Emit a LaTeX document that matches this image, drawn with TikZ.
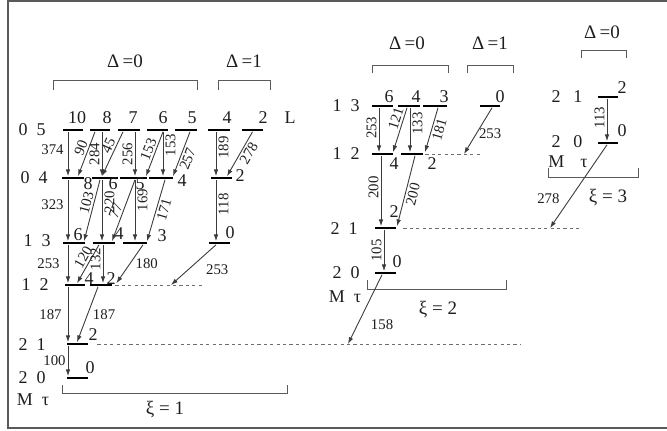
\documentclass[tikz,border=0pt]{standalone}
\usepackage{fontspec}
\setmainfont{Liberation Serif}
\usepackage{tikz}
\usetikzlibrary{arrows.meta,calc}
\definecolor{Ink}{HTML}{1E1E1E}
\definecolor{Wire}{HTML}{3C3C3C}
\definecolor{Frame}{HTML}{5A5A5A}
\definecolor{Dash}{HTML}{6E6E6E}

\begin{document}
\begin{tikzpicture}[x=0.5pt,y=-0.5pt,
  lvl/.style={fill=black,inner sep=0pt,minimum height=1.4pt,minimum width=#1*0.5pt},
  lvl/.default=21,
  tr/.style={draw=Wire,line width=0.45pt,-{Latex[length=3.4pt,width=2.3pt]}},
  wl/.style={font=\fontsize{7.4}{8}\selectfont,text=Ink,inner sep=1pt},
  vl/.style={wl,rotate=90},
  tag/.style={font=\fontsize{9}{10}\selectfont,text=Ink,inner sep=0pt},
  head/.style={font=\fontsize{9.5}{11}\selectfont,text=Ink,inner sep=0pt},
  brk/.style={draw=Frame,line width=0.5pt},
  lost/.style={draw=Dash,line width=0.5pt,dash pattern=on 1.6pt off 1.6pt}]
  \useasboundingbox (0,0) rectangle (667,430);
  \draw[draw=Frame,line width=1pt] (667,1) -- (8,1) -- (8,428) -- (667,428);

  \foreach \n/\x/\y/\w in {u10/72.5/130/20,u8/100/130/20,u7/129/130/22,u6/157.5/130/21,
      u5/186/130/22,u4/219/130/22,u2/252.5/130/21,
      l8/73/178/22,l6/105/178/26,l5/133.5/178/27,l4/161/178/24,l2/221/178/21,
      m6/74/243/22,m4/104/243/22,m3/135/243/24,m0/219.5/243/21,
      n4/75/285/20,n2/101/285/22,o2/77.5/344/21,p0/77.5/378/21,
      a6/382.5/106/21,a4/409/106/22,a3/435/106/24,a0/490/106/20,
      b4/382.5/154/21,b2/412/154/22,c2/385.5/228/21,d0/385.5/273/21,
      e2/608/97/20,f0/608/143/20}
    \node[lvl=\w] (\n) at (\x,\y) {};

  \foreach \n/\x/\y/\t in {r05/32/130/{0\enspace5},r04/34/178/{0\enspace4},r13/37/241/{1\enspace3},
      r12/35/285/{1\enspace2},r21/32/345/{2\enspace1},r20/32/378/{2\enspace0},mt1/33/400/{M\enspace τ},
      t10/77/118/10,t8/107/118/8,t7/133/118/7,t6/163/118/6,t5/192/118/5,t4/227/118/4,t2/263/118/2,tL/290/118/L,
      s8/88/184/8,s6/113/184/6,s5/140/184/5,s4/182/181/4,s2/240/176/2,
      v6/78/235/6,v4/119/234/4,v3/162/236/3,v0/230/233/0,
      w4/89/279/4,w2/111/279/2,x2/93/335/2,y0/90/368/0,
      rA13/346/106/{1\enspace3},rA12/346/154/{1\enspace2},rA21/344/229/{2\enspace1},
      rA20/346/273/{2\enspace0},mtA/345/297/{M\enspace τ},
      q6/389/97/6,q4/416/97/4,q3/444/97/3,q0/500/97/0,
      z4/394/164/4,z2/432/164/2,g2/394/212/2,g0/397/262/0,
      rB21/567/97/{2\hspace{0.7em}1},rB20/567/142/{2\hspace{0.7em}0},mtB/568/162/{M\hspace{0.9em}τ},
      j2/622/88/2,j0/622/131/0}
    \node[tag] (\n) at (\x,\y) {\t};

  \foreach \n/\x/\y/\t in {d01/125/61/{Δ\,=0},d11/244/61/{Δ\,=1},d02/407/43/{Δ\,=0},
      d12/490/43/{Δ\,=1},d03/602/32/{Δ\,=0},
      xi1/165/410/{ξ = 1},xi2/438/310/{ξ = 2},xi3/608/198/{ξ = 3}}
    \node[head] (\n) at (\x,\y) {\t};

  \draw[brk] (53,90) |- (197,80) -- (197,90);
  \draw[brk] (218,90) |- (270,80) -- (270,90);
  \draw[brk] (372,73) |- (448,65) -- (448,73);
  \draw[brk] (467,73) |- (513,65) -- (513,73);
  \draw[brk] (581,58) |- (626,50) -- (626,58);
  \draw[brk] (62,385) |- (287,393) -- (287,385);
  \draw[brk] (367,280) |- (506,289) -- (506,280);
  \draw[brk] (548,168) |- (638,177) -- (638,168);

  \coordinate (eA) at (202,285);
  \coordinate (eB) at (520,344);
  \coordinate (eC) at (482,154);
  \coordinate (eD) at (582,228);
  \coordinate (hA) at (171,285);
  \coordinate (hB) at (348,344);
  \coordinate (hC) at (464,154);
  \coordinate (hD) at (550,228);
  \draw[lost] ($(n2.east)+(3,0)$) -- (eA);
  \draw[lost] ($(o2.east)+(9,0)$) -- (eB);
  \draw[lost] ($(b2.east)+(2,0)$) -- (eC);
  \draw[lost] ($(c2.east)+(7,0)$) -- (eD);

  \draw[tr] ($(u10.south)+(-4.5,0)$) -- node[wl,left=1pt,pos=.4] (k374) {374} ($(l8.north)+(-5,0)$);
  \draw[tr] ($(u8.south)+(-5,0)$) -- node[wl,sloped,above,pos=.42] (k90) {90} ($(l8.north)+(5,0)$);
  \draw[tr] ($(u8.south)+(2,0)$) -- node[vl,anchor=south,pos=.5] (k284) {284} ($(l6.north)+(-3,0)$);
  \draw[tr] ($(u7.south)+(-6,0)$) -- node[wl,sloped,above,pos=.38] (k45) {45} ($(l6.north)+(-3,0)$);
  \draw[tr] ($(u7.south)+(6,0)$) -- node[vl,anchor=south,pos=.5] (k256) {256} ($(l5.north)+(1.5,0)$);
  \draw[tr] ($(u6.south)+(5.5,0)$) -- node[wl,sloped,above,pos=.45] (k153a) {153} ($(l5.north)+(12.5,0)$);
  \draw[tr] ($(u6.south)+(5.5,0)$) -- node[vl,anchor=north,pos=.3] (k153b) {153} ($(l4.north)+(2,0)$);
  \draw[tr] ($(u5.south)+(4,0)$) -- node[wl,sloped,below,pos=.55] (k257) {257} ($(l4.north)+(12,0)$);
  \draw[tr] ($(u4.south)+(-3,0)$) -- node[vl,anchor=north,pos=.35] (k189) {189} ($(l2.north)+(-5,0)$);
  \draw[tr] (u2.south) -- node[wl,sloped,below,pos=.4] (k278a) {278} ($(l2.north)+(6,0)$);

  \draw[tr] ($(l8.south)+(-5,0)$) -- node[wl,left=1pt,pos=.41] (k323) {323} ($(m6.north)+(-6,0)$);
  \draw[tr] ($(l6.south)+(-5,0)$) -- node[wl,sloped,above,pos=.4] (k103) {103} ($(m6.north)+(10,0)$);
  \draw[tr] ($(l6.south)+(-3,0)$) -- node[vl,anchor=north,pos=.36] (k220) {220} ($(m4.north)+(-2,0)$);
  \draw[tr] ($(l5.south)+(1.5,0)$) -- node[wl,sloped,above,pos=.55] (k77) {77} ($(m4.north)+(8,0)$);
  \draw[tr] ($(l5.south)+(1.5,0)$) -- node[vl,anchor=north,pos=.33] (k169) {169} (m3.north);
  \draw[tr] ($(l4.south)+(4,0)$) -- node[wl,sloped,below,pos=.45] (k171) {171} ($(m3.north)+(12,0)$);
  \draw[tr] ($(l2.south)+(-5,0)$) -- node[vl,anchor=north,pos=.4] (k118) {118} ($(m0.north)+(-3.5,0)$);

  \draw[tr] ($(m6.south)+(-6,0)$) -- node[wl,left=3pt,pos=.48] (k253a) {253} ($(n4.north)+(-7,0)$);
  \draw[tr] ($(m4.south)+(-5,0)$) -- node[wl,sloped,above,pos=.42] (k120) {120} ($(n4.north)+(2,0)$);
  \draw[tr] ($(m4.south)+(-1,0)$) -- node[vl,anchor=south,pos=.37] (k132) {132} ($(n2.north)+(2,0)$);
  \draw[tr] ($(m3.south)+(8,0)$) -- node[wl,right=1.5pt,pos=.48] (k180) {180} ($(n2.north east)+(4,0)$);
  \draw[tr] ($(m0.south)+(-3.5,0)$) -- node[wl,right=8pt,pos=.63] (k253b) {253} (hA);

  \draw[tr] ($(n4.south)+(-7,0)$) -- node[wl,left=2pt,pos=.5] (k187a) {187} ($(o2.north)+(-9.5,0)$);
  \draw[tr] ($(n2.south)+(-3,0)$) -- node[wl,right=1.5pt,pos=.5] (k187b) {187} ($(o2.north)+(-0.5,0)$);
  \draw[tr] ($(o2.south)+(-9.5,0)$) -- node[wl,left,pos=.5] (k100) {100} ($(p0.north)+(-9.5,0)$);

  \draw[tr] ($(a6.south)+(-3.5,0)$) -- node[vl,anchor=south,pos=.45] (k253c) {253} ($(b4.north)+(-3.5,0)$);
  \draw[tr] ($(a4.south)+(-2,0)$) -- node[wl,sloped,above,pos=.3] (k121) {121} ($(b4.north)+(10.5,0)$);
  \draw[tr] ($(a4.south)+(1,0)$) -- node[vl,anchor=north,pos=.35] (k133) {133} ($(b2.north)+(-2,0)$);
  \draw[tr] ($(a3.south)+(3,0)$) -- node[wl,sloped,below,pos=.45] (k181) {181} ($(b2.north)+(13,0)$);
  \draw[tr] ($(a0.south)+(2,0)$) -- node[wl,right,pos=.55] (k253d) {253} (hC);
  \draw[tr] ($(b4.south)+(-1.5,0)$) -- node[vl,anchor=south,pos=.45] (k200a) {200} ($(c2.north)+(-4.5,0)$);
  \draw[tr] ($(b2.south)+(3,0)$) -- node[wl,sloped,below,pos=.52] (k200b) {200} ($(c2.north)+(11.5,0)$);
  \draw[tr] ($(c2.south)+(-1.5,0)$) -- node[vl,anchor=south,pos=.5] (k105) {105} ($(d0.north)+(-1.5,0)$);
  \draw[tr] ($(d0.south)+(-3.5,0)$) -- node[wl,right=5.5pt,pos=.72] (k158) {158} (hB);

  \draw[tr] ($(e2.south)+(-1,0)$) -- node[vl,anchor=south,pos=.45] (k113) {113} ($(f0.north)+(-1,0)$);
  \draw[tr] ($(f0.south)+(-1,0)$) -- node[wl,left=4pt,pos=.65] (k278b) {278} (hD);
\end{tikzpicture}
\end{document}
